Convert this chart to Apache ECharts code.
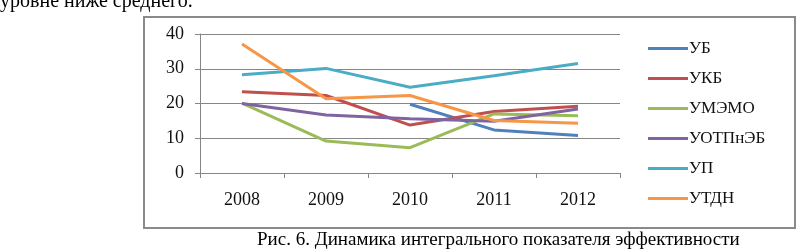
<!DOCTYPE html>
<html>
<head>
<meta charset="utf-8">
<script src="https://cdn.jsdelivr.net/npm/echarts@6/dist/echarts.min.js"></script>
<style>
  html, body { margin: 0; padding: 0; background: #fff; }
  #main { width: 797px; height: 252px; }
</style>
</head>
<body>
<div id="main"></div>
<script>
const years = ['2008', '2009', '2010', '2011', '2012'];
const ub = [null, null, 19.8, 12.4, 10.8];
const ukb = [23.4, 22.3, 13.8, 17.7, 19.2];
const umemo = [20.1, 9.2, 7.3, 17.0, 16.5];
const uotpneb = [20.0, 16.7, 15.6, 14.9, 18.4];
const up = [28.3, 30.1, 24.7, 28.0, 31.5];
const utdn = [37.1, 21.4, 22.3, 15.1, 14.3];
const yTicks = [0, 10, 20, 30, 40];

const seriesDefs = [
  { name: 'УБ', data: ub, color: '#4F81BD' },
  { name: 'УКБ', data: ukb, color: '#C0504D' },
  { name: 'УМЭМО', data: umemo, color: '#9BBB59' },
  { name: 'УОТПнЭБ', data: uotpneb, color: '#8064A2' },
  { name: 'УП', data: up, color: '#4BACC6' },
  { name: 'УТДН', data: utdn, color: '#F79646' }
];

const serif = '"Liberation Serif", "DejaVu Serif", serif';
const chart = echarts.init(document.getElementById('main'));

const option = {
  backgroundColor: '#fff',
  animation: false,
  textStyle: { fontFamily: serif },
  grid: { left: 200, top: 34, right: 177, bottom: 79 },
  xAxis: {
    type: 'category',
    data: years,
    boundaryGap: true,
    axisLine: { lineStyle: { color: '#868686', width: 1 } },
    axisTick: { show: true, length: 5, lineStyle: { color: '#868686' } },
    axisLabel: { color: '#111', fontSize: 18, margin: 18, fontFamily: serif }
  },
  yAxis: {
    type: 'value',
    min: yTicks[0],
    max: yTicks[yTicks.length - 1],
    interval: 10,
    axisLine: { show: true, lineStyle: { color: '#868686', width: 1 } },
    axisTick: { show: true, length: 5, lineStyle: { color: '#868686' } },
    splitLine: { lineStyle: { color: '#868686', width: 1 } },
    axisLabel: { color: '#111', fontSize: 18, margin: 16, fontFamily: serif }
  },
  legend: {
    orient: 'vertical',
    left: 648,
    top: 40,
    padding: 0,
    itemGap: 13,
    itemWidth: 40,
    itemHeight: 3,
    icon: 'rect',
    textStyle: { color: '#111', fontSize: 17, fontFamily: serif, padding: [0, 0, 0, -4] },
    data: seriesDefs.map(s => s.name)
  },
  graphic: [
    {
      type: 'rect',
      shape: { x: 144, y: 17, width: 651, height: 211 },
      style: { fill: 'none', stroke: '#8a8a8a', lineWidth: 2 },
      silent: true
    },
    {
      type: 'text',
      left: 0,
      top: -8,
      style: { text: 'уровне ниже среднего.', font: '20px ' + serif, fill: '#000' }
    },
    {
      type: 'text',
      left: 257,
      top: 231,
      style: { text: 'Рис. 6. Динамика интегрального показателя эффективности', font: '19px ' + serif, fill: '#000' }
    }
  ],
  series: seriesDefs.map(s => ({
    name: s.name,
    type: 'line',
    data: s.data,
    showSymbol: false,
    symbol: 'none',
    connectNulls: false,
    color: s.color,
    lineStyle: { width: 3, color: s.color }
  }))
};

chart.setOption(option);
</script>
</body>
</html>
